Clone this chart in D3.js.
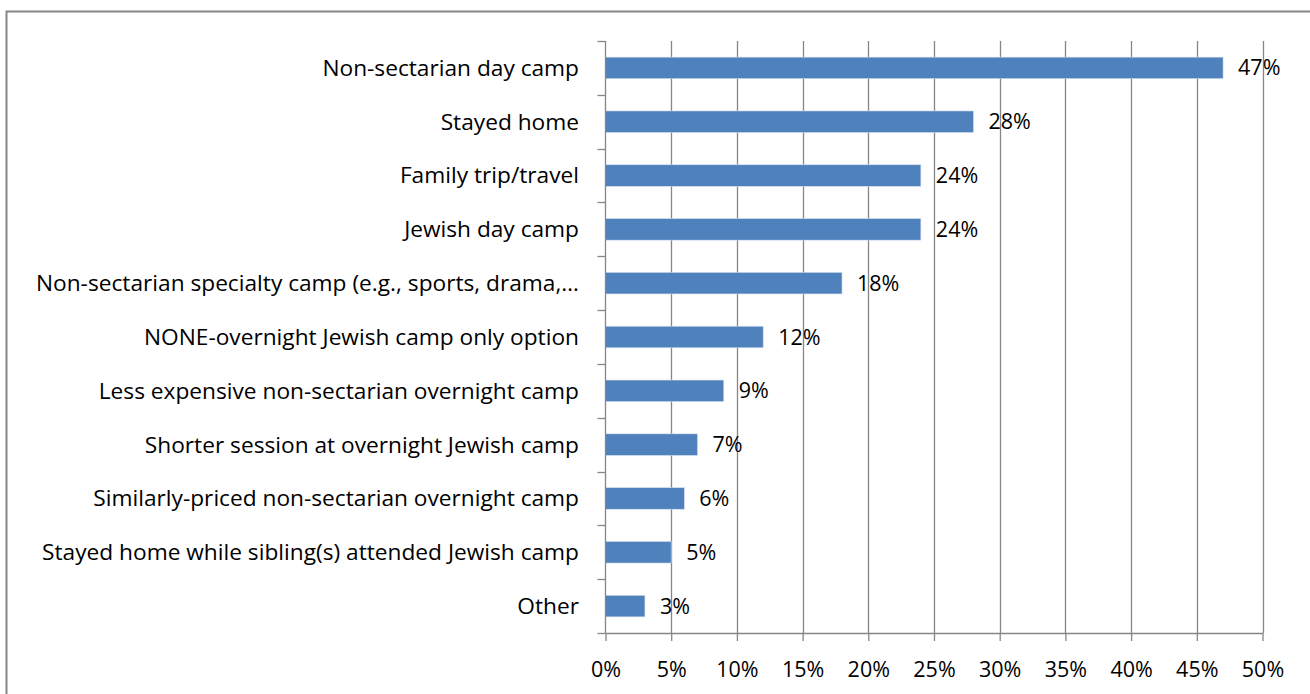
<!DOCTYPE html>
<html><head><meta charset="utf-8">
<script src="https://cdn.jsdelivr.net/npm/d3@7"></script>
<style>html,body{margin:0;padding:0;background:#fff;}svg{display:block;}</style>
</head><body>
<svg id="c" width="1310" height="694"></svg>
<script>
const categories = ["Non-sectarian day camp","Stayed home","Family trip/travel","Jewish day camp","Non-sectarian specialty camp (e.g., sports, drama,…","NONE-overnight Jewish camp only option","Less expensive non-sectarian overnight camp","Shorter session at overnight Jewish camp","Similarly-priced non-sectarian overnight camp","Stayed home while sibling(s) attended Jewish camp","Other"];
const values = [47,28,24,24,18,12,9,7,6,5,3];
const tickValues = [0,5,10,15,20,25,30,35,40,45,50];

const svg = d3.select("#c");
const font = "'Open Sans', sans-serif";
const fs = 21.5, fsCat = 22.7;
const L = 605.5, R = 1262.5, T = 41, B = 633;
const x = d3.scaleLinear().domain([0,50]).range([L,R]);
const y = d3.scaleBand().domain(categories).range([T,B]).paddingInner(0.6).paddingOuter(0.3);
const yb = d3.scaleBand().domain(categories).range([T,B]);
const grey = "#868686";

svg.append("rect").attr("x",6.5).attr("y",11.5).attr("width",1310).attr("height",700)
  .attr("fill","#fff").attr("stroke",grey).attr("stroke-width",2);

// gridlines
svg.append("g").selectAll("line").data(tickValues.slice(1)).join("line")
  .attr("x1",d=>Math.round(x(d))+0.5).attr("x2",d=>Math.round(x(d))+0.5)
  .attr("y1",T).attr("y2",B).attr("stroke",grey).attr("stroke-width",1.3);

// bars
svg.append("g").selectAll("rect").data(values).join("rect")
  .attr("x",x(0)).attr("y",(d,i)=>y(categories[i]))
  .attr("width",d=>x(d)-x(0)).attr("height",y.bandwidth())
  .attr("fill","#4F81BD").attr("stroke","#d0dcec").attr("stroke-width",0.6);

// x axis
const xa = svg.append("g").attr("transform",`translate(0,${B})`)
  .call(d3.axisBottom(x).tickValues(tickValues).tickFormat(d=>d+"%").tickSize(8).tickPadding(21).tickSizeOuter(0));
xa.select(".domain").attr("stroke",grey).attr("stroke-width",1.3);
xa.selectAll(".tick line").attr("stroke",grey).attr("stroke-width",1.3);
xa.selectAll("text").attr("font-family",font).attr("font-size",fs).attr("fill","#000");

// y axis
const yEdges = categories.map(c=>yb(c)).concat([B]);
svg.append("line").attr("x1",L).attr("x2",L).attr("y1",T).attr("y2",B).attr("stroke",grey).attr("stroke-width",1.3);
svg.append("g").selectAll("line").data(yEdges).join("line")
  .attr("x1",L-8).attr("x2",L).attr("y1",d=>Math.round(d)+0.5).attr("y2",d=>Math.round(d)+0.5)
  .attr("stroke",grey).attr("stroke-width",1.3);
svg.append("g").selectAll("text").data(categories).join("text")
  .attr("x",579).attr("y",d=>yb(d)+yb.bandwidth()/2).attr("dy","0.35em")
  .attr("text-anchor","end").attr("font-family",font).attr("font-size",fsCat).attr("fill","#000")
  .text(d=>d);

// value labels
svg.append("g").selectAll("text").data(values).join("text")
  .attr("x",d=>x(d)+15).attr("y",(d,i)=>yb(categories[i])+yb.bandwidth()/2).attr("dy","0.35em")
  .attr("font-family",font).attr("font-size",fs).attr("fill","#000")
  .text(d=>d+"%");
</script>
</body></html>
